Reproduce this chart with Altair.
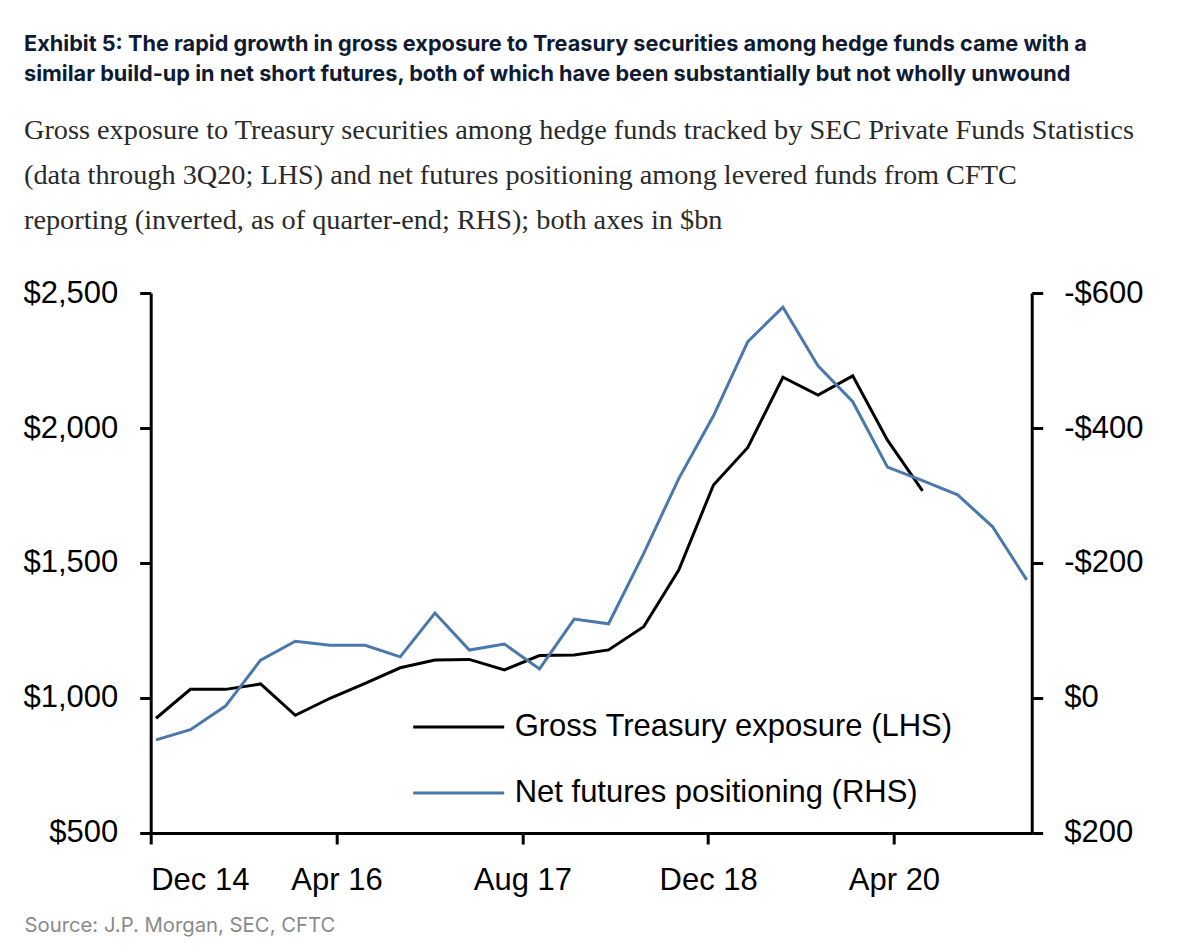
import altair as alt
import pandas as pd

# ---- data ----
quarters = [
    "2014-12-15", "2015-03-15", "2015-06-15", "2015-09-15", "2015-12-15",
    "2016-03-15", "2016-06-15", "2016-09-15", "2016-12-15",
    "2017-03-15", "2017-06-15", "2017-09-15", "2017-12-15",
    "2018-03-15", "2018-06-15", "2018-09-15", "2018-12-15",
    "2019-03-15", "2019-06-15", "2019-09-15", "2019-12-15",
    "2020-03-15", "2020-06-15", "2020-09-15", "2020-12-15",
    "2021-03-15",
]
gross_exposure = [925, 1032, 1032, 1052, 936, 999, 1054, 1112, 1141, 1143, 1104,
                  1157, 1159, 1178, 1264, 1474, 1789, 1928, 2188, 2122, 2193,
                  1955, 1767]
net_futures = [62, 47, 12, -56, -84, -78, -78, -61, -126, -71, -80, -43, -117,
               -110, -214, -325, -418, -528, -579, -492, -439, -342, -322, -301,
               -254, -175]

series_names = ["Gross Treasury exposure (LHS)", "Net futures positioning (RHS)"]
series_colors = ["#000000", "#4a78aa"]
left_ticks = [500, 1000, 1500, 2000, 2500]
right_ticks = [-600, -400, -200, 0, 200]

title_lines = [
    "Exhibit 5: The rapid growth in gross exposure to Treasury securities among hedge funds came with a",
    "similar build-up in net short futures, both of which have been substantially but not wholly unwound",
]
subtitle_lines = [
    "Gross exposure to Treasury securities among hedge funds tracked by SEC Private Funds Statistics",
    "(data through 3Q20; LHS) and net futures positioning among levered funds from CFTC",
    "reporting (inverted, as of quarter-end; RHS); both axes in $bn",
]
source_text = "Source: J.P. Morgan, SEC, CFTC"

df_g = pd.DataFrame({"date": quarters[:len(gross_exposure)], "value": gross_exposure,
                     "series": series_names[0]})
df_n = pd.DataFrame({"date": quarters, "value": net_futures, "series": series_names[1]})

SANS = "Liberation Sans, Arial, sans-serif"

x_tick_dates = [alt.DateTime(year=y, month=m, date=1, utc=True)
                for y, m in [(2014, 12), (2016, 4), (2017, 8), (2018, 12), (2020, 4)]]

x_enc = alt.X(
    "date:T",
    scale=alt.Scale(type="utc", domain=[alt.DateTime(year=2014, month=12, date=1, utc=True),
                                        alt.DateTime(year=2021, month=3, date=28, utc=True)]),
    axis=alt.Axis(
        values=x_tick_dates,
        labelExpr="utcFormat(datum.value, '%b %y')",
        labelPadding=22,
        labelFontSize=31,
        title=source_text,
        titleX=-126.7,
        titleY=93,
        titleAlign="left",
        titleBaseline="middle",
        titleFont="Inter",
        titleFontSize=20.3,
        titleFontWeight="normal",
        titleColor="#8a8a8a",
    ),
)

color_enc = alt.Color(
    "series:N",
    scale=alt.Scale(domain=series_names, range=series_colors),
    legend=alt.Legend(
        title=None, orient="none", legendX=261, legendY=387,
        symbolType="stroke", symbolSize=8281, symbolStrokeWidth=3,
        labelFont=SANS, labelFontSize=31, labelColor="#000000",
        labelOffset=9, rowPadding=4, padding=0, labelLimit=0,
    ),
)

left = alt.Chart(df_g).mark_line(strokeWidth=3).encode(
    x=x_enc,
    y=alt.Y("value:Q", scale=alt.Scale(domain=[500, 2500], nice=False),
            axis=alt.Axis(orient="left", values=left_ticks, title=None,
                          labelExpr="'$' + format(datum.value, ',')",
                          labelPadding=22, labelFontSize=31)),
    color=color_enc,
)

right = alt.Chart(df_n).mark_line(strokeWidth=3).encode(
    x=x_enc,
    y=alt.Y("value:Q", scale=alt.Scale(domain=[-600, 200], reverse=True, nice=False),
            axis=alt.Axis(orient="right", values=right_ticks, title=None,
                          labelExpr="datum.value < 0 ? '-$' + format(-datum.value, ',') : '$' + format(datum.value, ',')",
                          labelPadding=21, labelFontSize=31, labelAlign="left")),
    color=color_enc,
)

chart = alt.layer(left, right).resolve_scale(y="independent").properties(
    width=881,
    height=540,
    autosize=alt.AutoSizeParams(type="none"),
    padding={"left": 142.7, "top": 285, "right": 140, "bottom": 111},
    title=alt.Title(
        text=title_lines,
        subtitle=subtitle_lines,
        anchor="start",
        frame="group",
        dx=-126.7,
        offset=43,
        font="Inter",
        fontSize=21.7,
        fontWeight="bold",
        color="#0f1b33",
        lineHeight=30,
        subtitleFont="Liberation Serif",
        subtitleFontSize=28.3,
        subtitleColor="#2a2a2a",
        subtitleLineHeight=45,
        subtitlePadding=31,
    ),
).configure_view(stroke=None).configure_axis(
    domainColor="#000000",
    domainWidth=3,
    tickColor="#000000",
    tickWidth=3,
    tickSize=11,
    grid=False,
    labelFont=SANS,
    labelColor="#000000",
)

chart.save("out.html", embed_options={"renderer": "svg", "actions": False})
